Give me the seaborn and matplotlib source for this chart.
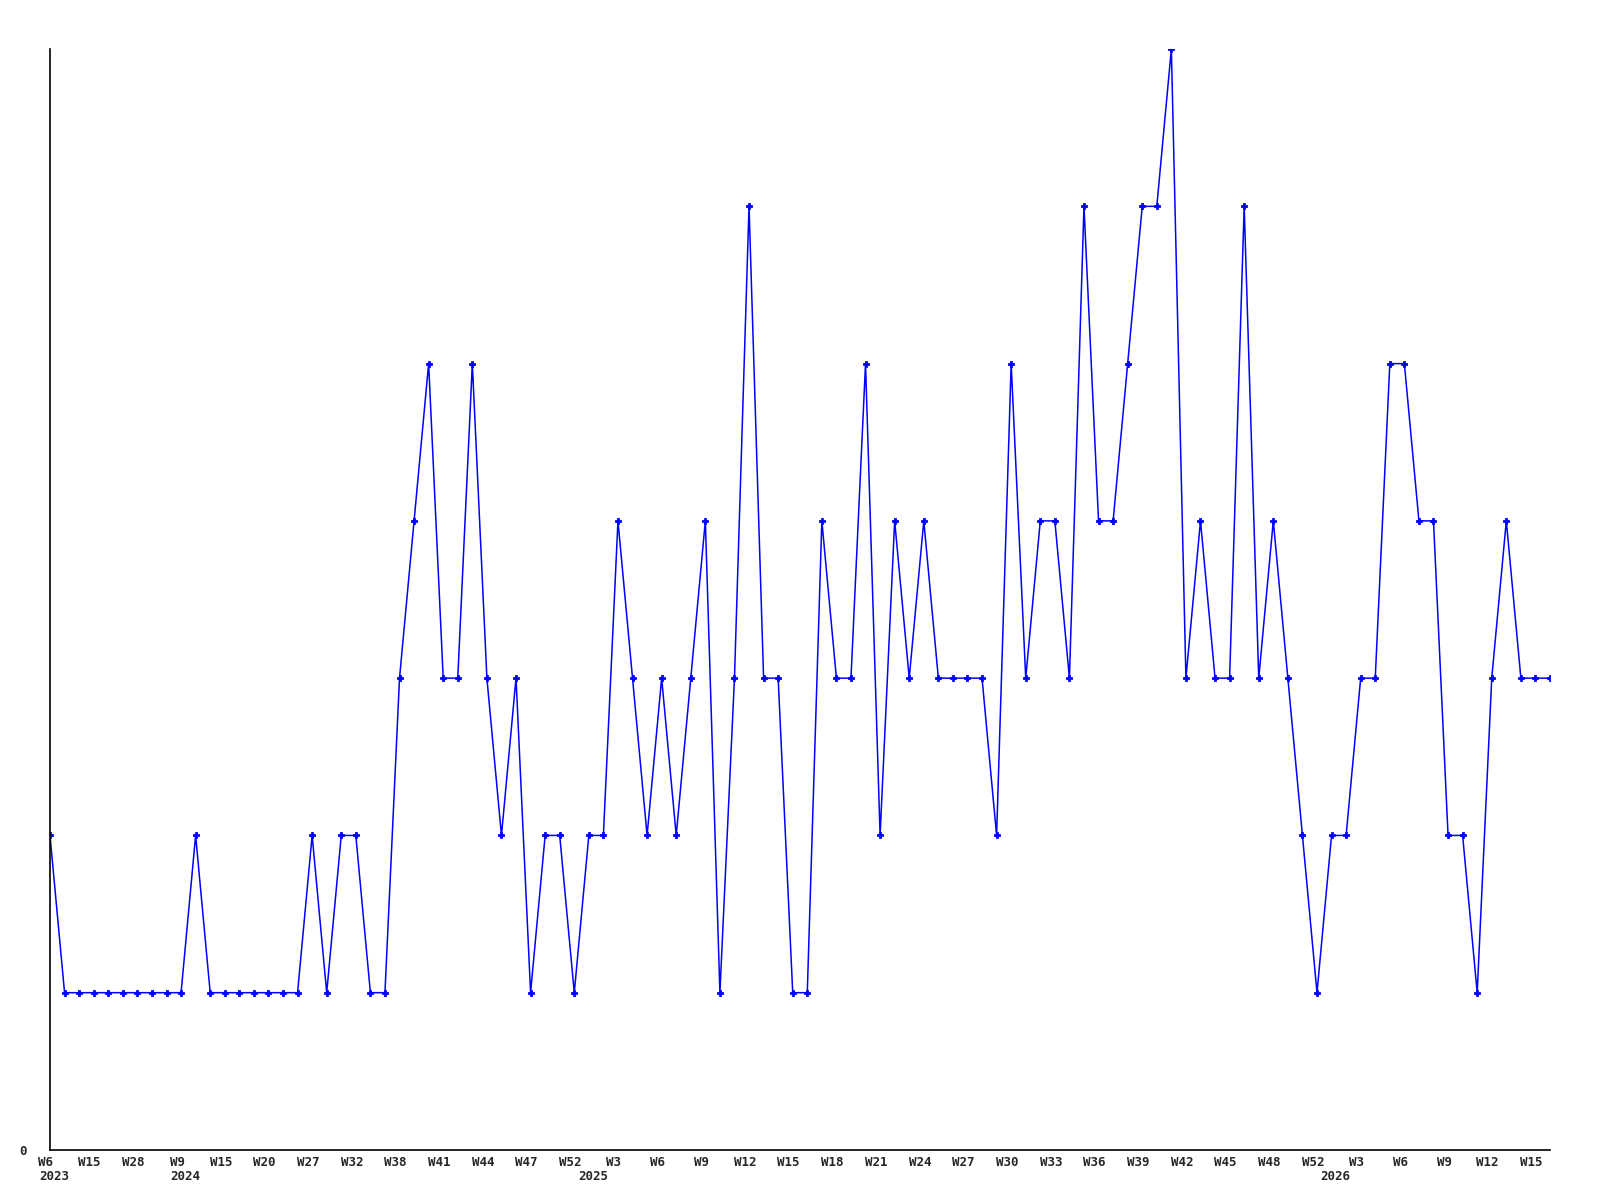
import matplotlib
matplotlib.use("Agg")
import matplotlib.pyplot as plt
import matplotlib.transforms as mtransforms
import numpy as np
import pandas as pd
import seaborn as sns

# weekly counts, one value per point
counts = [2, 1, 1, 1, 1, 1, 1, 1, 1, 1,
          2, 1, 1, 1, 1, 1, 1, 1, 2, 1,
          2, 2, 1, 1, 3, 4, 5, 3, 3, 5,
          3, 2, 3, 1, 2, 2, 1, 2, 2, 4,
          3, 2, 3, 2, 3, 4, 1, 3, 6, 3,
          3, 1, 1, 4, 3, 3, 5, 2, 4, 3,
          4, 3, 3, 3, 3, 2, 5, 3, 4, 4,
          3, 6, 4, 4, 5, 6, 6, 7, 3, 4,
          3, 3, 6, 3, 4, 3, 2, 1, 2, 2,
          3, 3, 5, 5, 4, 4, 2, 2, 1, 3,
          4, 3, 3, 3]

# labels shown on every third point
week_labels = ["W6", "W15", "W28", "W9", "W15", "W20", "W27", "W32", "W38",
               "W41", "W44", "W47", "W52", "W3", "W6", "W9", "W12", "W15",
               "W18", "W21", "W24", "W27", "W30", "W33", "W36", "W39", "W42",
               "W45", "W48", "W52", "W3", "W6", "W9", "W12", "W15"]
years = ["2023", "2024", "2025", "2026"]
year_start = [0, 9, 37, 88]

df = pd.DataFrame({"idx": np.arange(len(counts)), "count": counts})

sns.set_style("white")
plt.rcParams["font.family"] = ["DejaVu Sans Mono"]

fig = plt.figure(figsize=(16, 12), dpi=100)
ax = fig.add_axes([0.03125, 0.0417, 0.9375, 0.9174])

sns.lineplot(data=df, x="idx", y="count", ax=ax, color="#0000ff",
             linewidth=1.1, marker="P", markersize=4.5, markeredgewidth=0.6,
             markeredgecolor="#0000ff")

ax.set_xlim(0, len(counts) - 1)
ax.set_ylim(0, 7)
ax.set_xlabel("")
ax.set_ylabel("")

ax.set_xticks(np.arange(0, len(counts), 3))
ax.set_xticklabels(week_labels, fontsize=9, fontweight="bold")
ax.set_yticks([0])
ax.set_yticklabels(["0"], fontsize=9, fontweight="bold")
ax.tick_params(axis="x", length=0, pad=4)
ax.tick_params(axis="y", length=0, pad=17)

shift = mtransforms.ScaledTranslation(-4 / 100, 0, fig.dpi_scale_trans)
for lab in ax.get_xticklabels():
    lab.set_transform(lab.get_transform() + shift)

for yr, pos in zip(years, year_start):
    ax.annotate(yr, xy=(pos, 0), xycoords=("data", "axes fraction"),
                xytext=(-11, -27), textcoords="offset pixels",
                ha="left", va="center", fontsize=9, fontweight="bold")

ax.spines["top"].set_visible(False)
ax.spines["right"].set_visible(False)
for s in ["left", "bottom"]:
    ax.spines[s].set_color("black")
    ax.spines[s].set_linewidth(1.2)
ax.grid(False)

fig.savefig("out.png", dpi=100, facecolor="white")
